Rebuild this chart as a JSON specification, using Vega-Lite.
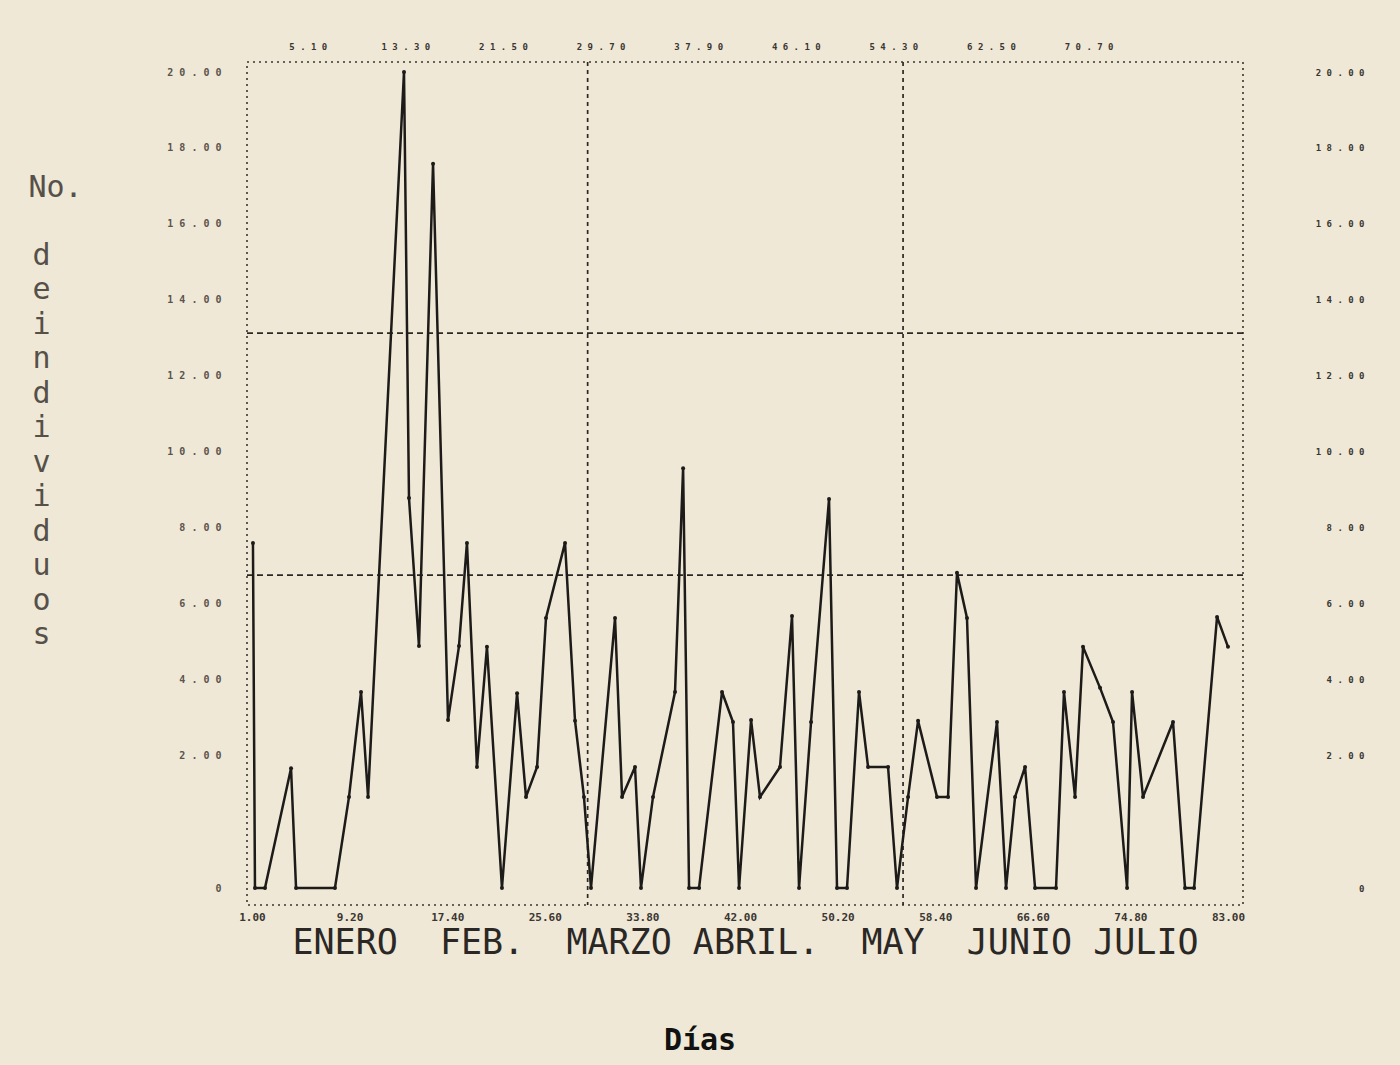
{
  "$schema": "https://vega.github.io/schema/vega-lite/v6.json",
  "width": 996,
  "height": 843,
  "autosize": {"type": "none"},
  "padding": {"left": 247, "top": 62, "right": 157, "bottom": 160},
  "background": "#efe8d6",
  "config": {
    "view": {"stroke": "#3a3632", "strokeDash": [2, 4], "strokeWidth": 1.6, "fill": null},
    "font": "DejaVu Sans Mono"
  },
  "title": {
    "text": "Días",
    "orient": "bottom",
    "anchor": "middle",
    "frame": "group",
    "font": "DejaVu Sans Mono",
    "fontSize": 30,
    "fontWeight": "bold",
    "color": "#111111",
    "offset": 66,
    "dx": -45
  },
  "datasets": {
    "serie": [
      {"dia": 1.08, "n": 7.59}, {"dia": 1.25, "n": 0}, {"dia": 2.09, "n": 0}, {"dia": 4.28, "n": 1.8},
      {"dia": 4.7, "n": 0}, {"dia": 7.97, "n": 0}, {"dia": 9.15, "n": 1.37}, {"dia": 10.16, "n": 3.66},
      {"dia": 10.75, "n": 1.37}, {"dia": 13.77, "n": 20}, {"dia": 14.19, "n": 8.77}, {"dia": 15.03, "n": 4.87},
      {"dia": 16.21, "n": 17.58}, {"dia": 17.47, "n": 2.92}, {"dia": 18.39, "n": 4.87}, {"dia": 19.06, "n": 7.59},
      {"dia": 19.9, "n": 1.82}, {"dia": 20.74, "n": 4.85}, {"dia": 22.0, "n": 0}, {"dia": 23.27, "n": 3.63},
      {"dia": 24.02, "n": 1.37}, {"dia": 24.95, "n": 1.82}, {"dia": 25.7, "n": 5.61}, {"dia": 27.3, "n": 7.59},
      {"dia": 28.14, "n": 2.9}, {"dia": 28.89, "n": 1.37}, {"dia": 29.48, "n": 0}, {"dia": 31.5, "n": 5.61},
      {"dia": 32.09, "n": 1.37}, {"dia": 33.18, "n": 1.82}, {"dia": 33.68, "n": 0}, {"dia": 34.69, "n": 1.37},
      {"dia": 36.54, "n": 3.66}, {"dia": 37.22, "n": 9.56}, {"dia": 37.72, "n": 0}, {"dia": 38.56, "n": 0},
      {"dia": 40.49, "n": 3.66}, {"dia": 41.41, "n": 2.87}, {"dia": 41.92, "n": 0}, {"dia": 42.93, "n": 2.92},
      {"dia": 43.68, "n": 1.37}, {"dia": 45.36, "n": 1.82}, {"dia": 46.37, "n": 5.66}, {"dia": 46.96, "n": 0},
      {"dia": 47.97, "n": 2.87}, {"dia": 49.48, "n": 8.75}, {"dia": 50.15, "n": 0}, {"dia": 50.99, "n": 0},
      {"dia": 52.0, "n": 3.66}, {"dia": 52.76, "n": 1.82}, {"dia": 54.44, "n": 1.82}, {"dia": 55.19, "n": 0},
      {"dia": 56.12, "n": 1.37}, {"dia": 56.96, "n": 2.9}, {"dia": 58.55, "n": 1.37}, {"dia": 59.48, "n": 1.37},
      {"dia": 60.23, "n": 6.8}, {"dia": 61.07, "n": 5.61}, {"dia": 61.83, "n": 0}, {"dia": 63.59, "n": 2.87},
      {"dia": 64.35, "n": 0}, {"dia": 65.11, "n": 1.37}, {"dia": 65.95, "n": 1.82}, {"dia": 66.79, "n": 0},
      {"dia": 68.55, "n": 0}, {"dia": 69.22, "n": 3.66}, {"dia": 70.15, "n": 1.37}, {"dia": 70.82, "n": 4.85},
      {"dia": 72.25, "n": 3.77}, {"dia": 73.34, "n": 2.87}, {"dia": 74.52, "n": 0}, {"dia": 74.94, "n": 3.66},
      {"dia": 75.86, "n": 1.37}, {"dia": 78.38, "n": 2.87}, {"dia": 79.39, "n": 0}, {"dia": 80.15, "n": 0},
      {"dia": 82.08, "n": 5.64}, {"dia": 83.0, "n": 4.85}
    ],
    "vx": [{"dia": 29.2}, {"dia": 55.7}],
    "hy": [{"nivel": 6.74}, {"nivel": 13.12}]
  },
  "layer": [
    {
      "data": {"name": "vx"},
      "mark": {"type": "rule", "color": "#2b2825", "strokeDash": [4, 4], "strokeWidth": 1.7},
      "encoding": {
        "x": {
          "field": "dia",
          "type": "quantitative",
          "scale": {"domain": [0.58, 84.26], "nice": false, "zero": false},
          "axis": {
            "orient": "top",
            "values": [5.1, 13.3, 21.5, 29.7, 37.9, 46.1, 54.3, 62.5, 70.7],
            "labelExpr": "join(split(format(datum.value, '.2f'), ''), ' ')",
            "ticks": false,
            "tickSize": 0,
            "domain": false,
            "grid": false,
            "labelPadding": 11,
            "labelOffset": 7,
            "labelFont": "DejaVu Sans Mono",
            "labelFontSize": 9,
            "labelFontWeight": "bold",
            "labelColor": "#3a3632",
            "title": "No.",
            "titleAngle": 0,
            "titleX": -192,
            "titleY": 110,
            "titleAlign": "center",
            "titleBaseline": "top",
            "titleFont": "DejaVu Sans Mono",
            "titleFontSize": 30,
            "titleFontWeight": "normal",
            "titleColor": "#555049"
          }
        }
      }
    },
    {
      "data": {"name": "hy"},
      "mark": {"type": "rule", "color": "#2b2825", "strokeDash": [6, 4], "strokeWidth": 1.8},
      "encoding": {
        "y": {
          "field": "nivel",
          "type": "quantitative",
          "scale": {"domain": [-0.256, 0, 2, 20, 20.264], "range": [843, 826, 693, 10, 0], "nice": false, "zero": false},
          "axis": {
            "orient": "right",
            "values": [0, 2, 4, 6, 8, 10, 12, 14, 16, 18, 20],
            "labelExpr": "datum.value == 0 ? '0' : join(split(format(datum.value, '.2f'), ''), ' ')",
            "labelAlign": "right",
            "labelPadding": 121,
            "ticks": false,
            "tickSize": 0,
            "domain": false,
            "grid": false,
            "title": null,
            "labelFont": "DejaVu Sans Mono",
            "labelFontSize": 9,
            "labelFontWeight": "bold",
            "labelColor": "#3a3632"
          }
        }
      }
    },
    {
      "data": {"name": "serie"},
      "mark": {
        "type": "line",
        "color": "#1d1b19",
        "strokeWidth": 2.5,
        "point": {"filled": true, "size": 16, "color": "#1d1b19"}
      },
      "encoding": {
        "x": {
          "field": "dia",
          "type": "quantitative",
          "scale": {"domain": [0.58, 84.26], "nice": false, "zero": false},
          "axis": {
            "orient": "bottom",
            "values": [1, 9.2, 17.4, 25.6, 33.8, 42, 50.2, 58.4, 66.6, 74.8, 83],
            "format": ".2f",
            "ticks": false,
            "tickSize": 0,
            "domain": false,
            "grid": false,
            "labelPadding": 6,
            "labelFont": "DejaVu Sans Mono",
            "labelFontSize": 11,
            "labelFontWeight": "bold",
            "labelColor": "#3a3632",
            "title": "ENERO\u00a0\u00a0FEB.\u00a0\u00a0MARZO\u00a0ABRIL.\u00a0\u00a0MAY\u00a0\u00a0JUNIO\u00a0JULIO",
            "titleFont": "DejaVu Sans Mono",
            "titleFontSize": 35,
            "titleFontWeight": "normal",
            "titleColor": "#2a2725",
            "titlePadding": 3
          }
        },
        "y": {
          "field": "n",
          "type": "quantitative",
          "scale": {"domain": [-0.256, 0, 2, 20, 20.264], "range": [843, 826, 693, 10, 0], "nice": false, "zero": false},
          "axis": {
            "orient": "left",
            "values": [0, 2, 4, 6, 8, 10, 12, 14, 16, 18, 20],
            "labelExpr": "datum.value == 0 ? '0' : join(split(format(datum.value, '.2f'), ''), ' ')",
            "labelPadding": 26,
            "ticks": false,
            "tickSize": 0,
            "domain": false,
            "grid": false,
            "labelFont": "DejaVu Sans Mono",
            "labelFontSize": 10,
            "labelFontWeight": "bold",
            "labelColor": "#5a554d",
            "title": ["d", "e", "i", "n", "d", "i", "v", "i", "d", "u", "o", "s"],
            "titleAngle": 0,
            "titleX": -206,
            "titleY": 178,
            "titleAlign": "center",
            "titleBaseline": "top",
            "titleLineHeight": 34.5,
            "titleFont": "DejaVu Sans Mono",
            "titleFontSize": 30,
            "titleFontWeight": "normal",
            "titleColor": "#555049"
          }
        }
      }
    }
  ],
  "resolve": {"axis": {"x": "independent", "y": "independent"}}
}
